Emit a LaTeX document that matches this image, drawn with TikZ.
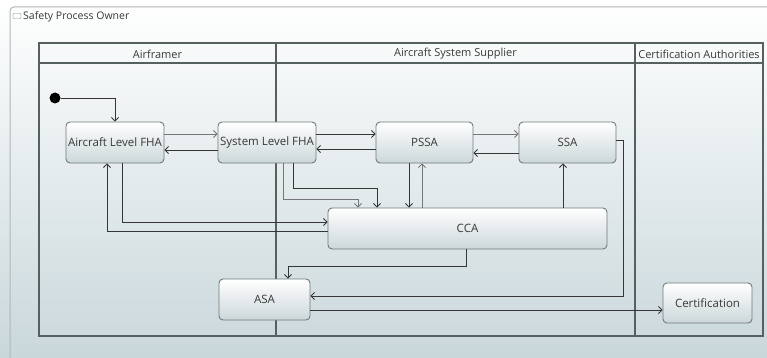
\documentclass[tikz,border=0pt]{standalone}
\usepackage{fontspec}
\setmainfont{Open Sans}
\usetikzlibrary{arrows.meta}
\definecolor{lanec}{HTML}{56605F}
\definecolor{boxline}{HTML}{70797C}
\definecolor{boxbot}{HTML}{CCD7DA}
\definecolor{bgbot}{HTML}{C9D7DB}
\definecolor{ln}{HTML}{363636}
\definecolor{lnl}{HTML}{767676}
\definecolor{txt}{HTML}{383838}
\definecolor{framec}{HTML}{B0B7B9}
\definecolor{iconc}{HTML}{6A8FA8}
\begin{document}
\begin{tikzpicture}[x=1pt,y=-1pt,
  box/.style={draw=boxline, line width=0.9pt, rounded corners=4pt, top color=white, bottom color=boxbot,
    minimum height=41pt, inner sep=0pt, font=\fontsize{11.5}{13}\selectfont, text=txt},
  arr/.style={draw=ln, line width=0.8pt, -{Straight Barb[length=3.5pt,width=7pt]}},
  arrl/.style={arr, draw=lnl},
  lane/.style={draw=lanec, line width=1.1pt},
  hdr/.style={font=\fontsize{11}{13}\selectfont, text=txt, inner sep=0pt}]
\useasboundingbox (0,0) rectangle (767,358);
\shade[top color=white, bottom color=bgbot] (0,0) rectangle (767,358);
% outer frame
\draw[framec, line width=1pt, rounded corners=4pt] (10,370) -- (10,7) -- (780,7);
\node[draw=iconc, rounded corners=1pt, minimum width=8pt, minimum height=5pt, inner sep=0pt, fill=white] (icon) at (17,16) {};
\node[anchor=west, font=\fontsize{10.5}{12}\selectfont, text=txt, inner sep=0pt] (title) at (23,17) {Safety Process Owner};
% lanes
\draw[lane] (39,43) rectangle (763,336);
\draw[lane] (39,63) -- (763,63);
\draw[lane] (276,43) -- (276,336);
\draw[lane] (635,43) -- (635,336);
\node[hdr] (h1) at (157.5,54) {Airframer};
\node[hdr] (h2) at (455.5,54) {Aircraft System Supplier};
\node[hdr] (h3) at (699,54) {Certification Authorities};
% nodes
\node[circle, fill=black, minimum size=11pt, inner sep=0pt] (init) at (55,98) {};
\node[box, minimum width=98pt] (afha) at (115,142.5) {Aircraft Level FHA};
\node[box, minimum width=98pt] (sfha) at (267,142.5) {System Level FHA};
\node[box, minimum width=97pt] (pssa) at (424.5,142.5) {PSSA};
\node[box, minimum width=97pt] (ssa) at (567.5,142.5) {SSA};
\node[box, minimum width=279pt] (cca) at (467.5,228.5) {CCA};
\node[box, minimum width=91pt] (asa) at (264.5,299.5) {ASA};
\node[box, minimum width=89pt, minimum height=40pt] (cert) at (707.5,303) {Certification};
% connectors
\draw[arr] (init.east) -| (afha.north);
\draw[arrl] (afha.east |- 0,134) -- (sfha.west |- 0,134);
\draw[arr] (sfha.west |- 0,150) -- (afha.east |- 0,150);
\draw[arr] (sfha.east |- 0,134) -- (pssa.west |- 0,134);
\draw[arr] (pssa.west |- 0,149) -- (sfha.east |- 0,149);
\draw[arrl] (pssa.east |- 0,134) -- (ssa.west |- 0,134);
\draw[arr] (ssa.west |- 0,153) -- (pssa.east |- 0,153);
\draw[arr] (pssa.south -| 409,0) -- (cca.north -| 409,0);
\draw[arrl] (cca.north -| 422,0) -- (pssa.south -| 422,0);
\draw[arr] (cca.north -| 563,0) -- (ssa.south -| 563,0);
\draw[arr] (sfha.south -| 293,0) |- (377,188) -- (cca.north -| 377,0);
\draw[arrl] (sfha.south -| 283,0) |- (358,199) -- (cca.north -| 358,0);
\draw[arr] (afha.south -| 122,0) |- (cca.west |- 0,222);
\draw[arr] (cca.west |- 0,231) -| (afha.south -| 107,0);
\draw[arr] (cca.south -| 466,0) |- (288,266) -- (asa.north -| 288,0);
\draw[arr] (ssa.east |- 0,140) -| (623,296) -- (asa.east |- 0,296);
\draw[arr] (asa.east |- 0,310) -- (cert.west |- 0,310);
\end{tikzpicture}
\end{document}
